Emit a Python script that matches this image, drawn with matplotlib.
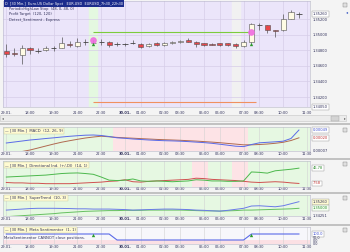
import numpy as np
import matplotlib
matplotlib.use("Agg")
import matplotlib.pyplot as plt
from matplotlib.patches import Rectangle
from matplotlib.lines import Line2D

# barras de 30 min: 29.01 16:30 -> 30.01 11:00
opens = [1.34790, 1.34768, 1.34738, 1.34824, 1.34790, 1.34803, 1.34824, 1.34824, 1.34879, 1.34858,
         1.34901, 1.34888, 1.34901, 1.34909, 1.34876, 1.34876, 1.34888, 1.34879, 1.34854, 1.34888,
         1.34867, 1.34888, 1.34905, 1.34931, 1.34909, 1.34888, 1.34879, 1.34888, 1.34888, 1.34879,
         1.34858, 1.34909, 1.35123, 1.35123, 1.35055, 1.35059, 1.35200, 1.35262]
highs = [1.34876, 1.34824, 1.34867, 1.34845, 1.34827, 1.34858, 1.34854, 1.34965, 1.34918, 1.34953,
         1.34940, 1.34931, 1.34940, 1.34922, 1.34901, 1.34896, 1.34931, 1.34888, 1.34888, 1.34901,
         1.34901, 1.34922, 1.34935, 1.34953, 1.34918, 1.34896, 1.34892, 1.34896, 1.34896, 1.34896,
         1.34931, 1.35145, 1.35153, 1.35123, 1.35059, 1.35264, 1.35315, 1.35294]
lows = [1.34717, 1.34726, 1.34619, 1.34747, 1.34760, 1.34790, 1.34794, 1.34824, 1.34845, 1.34845,
        1.34867, 1.34863, 1.34867, 1.34845, 1.34858, 1.34854, 1.34879, 1.34832, 1.34845, 1.34854,
        1.34858, 1.34879, 1.34896, 1.34905, 1.34845, 1.34858, 1.34863, 1.34854, 1.34850, 1.34832,
        1.34845, 1.34896, 1.35059, 1.35017, 1.34973, 1.35050, 1.35200, 1.35209]
closes = [1.34755, 1.34747, 1.34832, 1.34803, 1.34790, 1.34832, 1.34824, 1.34888, 1.34867, 1.34901,
          1.34901, 1.34896, 1.34901, 1.34867, 1.34876, 1.34876, 1.34888, 1.34845, 1.34879, 1.34863,
          1.34888, 1.34909, 1.34922, 1.34909, 1.34879, 1.34867, 1.34871, 1.34863, 1.34863, 1.34858,
          1.34909, 1.35132, 1.35123, 1.35059, 1.35050, 1.35200, 1.35294, 1.35260]

tick_idx = [0, 3, 6, 9, 12, 15, 17, 20, 22, 25, 27, 30, 32, 35, 38]
tick_lbl = ["29.01.", "18:00", "19:30", "21:00", "22:30", "30.01.", "01:00", "02:30",
            "03:30", "05:00", "06:00", "07:30", "08:30", "10:00", "11:30"]
price_ticks = [1.342, 1.344, 1.346, 1.348, 1.350, 1.352]

# trade
entry_idx, exit_idx = 11, 31
entry_price, target_price, stop_price = 1.34931, 1.35030, 1.34140
signal_idx = [11, 31]
signal_price = [1.34885, 1.34876]
green_bars = [11]
grey_bars = [29]

# MACD (x 1e-5)
macd = [1.9, 5.5, 9.1, 12.8, 15.3, 18.2, 20.7, 23.6, 26.2, 28.3, 30.2, 30.9, 29.1, 25.4, 20.7,
        18.9, 16.4, 14.6, 12.8, 11.3, 10.2, 9.5, 8.4, 7.0, 5.1, 3.3, 0.8, -2.5, -6.1, -9.7,
        -11.2, -3.6, 2.6, 4.4, 6.2, 8.4, 18.2, 49.0]
signal = [-38.0, -34.4, -28.9, -23.5, -16.3, -9.0, -1.8, 4.8, 10.2, 15.3, 20.0, 23.6, 26.5, 24.4,
          22.2, 20.7, 19.3, 17.8, 16.4, 14.9, 13.8, 12.8, 11.7, 10.2, 8.8, 7.0, 5.1, 3.0, 0.4,
          -2.1, -4.7, -4.7, -3.6, -1.8, 0.8, 4.4, 10.9, 20.7]
macd_state = "g" * 14 + "r" * 17 + "g" * 7

# Directional Ind.
plus_di = [24, 25, 26, 27, 28, 29, 31, 33, 34, 34.5, 33, 31, 24, 16, 15, 16, 19, 14, 13, 14,
           13, 12, 13, 14, 17, 16, 14, 14, 13, 13, 14, 37, 36, 34, 40, 42, 44, 46.78]
minus_di = [10, 9, 9, 8, 8, 7, 7, 7, 7, 8, 9, 10, 11, 13, 14, 17, 12, 11, 13, 14,
            15, 16, 17, 18, 21, 20, 18, 17, 16, 15, 13, 11, 10, 11, 12, 11, 9, 7.58]
di_red_bars = [24, 25, 29, 30]

# SuperTrend
st_blue = [1.3493, 1.3495, 1.3497, 1.3499, 1.3500, 1.3500, 1.3500, 1.34995, 1.3499, 1.3498,
           1.3498, 1.3497, 1.3497, 1.3497, 1.3496, 1.3495, 1.3493, 1.3494, 1.3495, 1.3496,
           1.3497, 1.3497, 1.3496, 1.3495, 1.3493, 1.3492, 1.3490, 1.3489, 1.3492, 1.3496,
           1.3500, 1.3509, 1.3510, 1.3508, 1.3506, 1.3510, 1.3518, 1.3526]
st_green = [1.3467, 1.3469, 1.3471, 1.3473, 1.3475, 1.3477, 1.3479, 1.3482, 1.3484, 1.3486,
            1.3488, 1.3489, 1.3490, 1.3491, 1.3491, 1.3492, 1.3492, 1.3492, 1.3493, 1.3493,
            1.3493, 1.3493, 1.3493, 1.3492, 1.3491, 1.3490, 1.3490, 1.3489, 1.3490, 1.3491,
            1.3493, 1.3493, 1.3494, 1.3495, 1.3496, 1.3497, 1.3498, 1.3500]

# Meta Sentimentor
meta = [100] * 14 + [0] * 17 + [100] * 7

W, H = 350, 252
fig = plt.figure(figsize=(W / 100, H / 100), dpi=100, facecolor="#f4f4f4")


def px_box(x0, y0, x1, y1):
    return [x0 / W, 1 - y1 / H, (x1 - x0) / W, (y1 - y0) / H]


n = len(closes)
idx = np.arange(n)
x_lim = (-0.42, 38.4)
txt_col = "#30305a"

ax_main = fig.add_axes(px_box(3, 1, 310, 107))
ax_macd = fig.add_axes(px_box(3, 127, 310, 151))
ax_di = fig.add_axes(px_box(3, 161, 310, 186.5))
ax_st = fig.add_axes(px_box(3, 195, 310, 216))
ax_meta = fig.add_axes(px_box(3, 227, 310, 244))


def base_axes(ax, bg, pad):
    ax.set_facecolor(bg)
    ax.set_xlim(*x_lim)
    ax.set_xticks(tick_idx)
    ax.set_xticklabels(tick_lbl, fontsize=2.6, color=txt_col)
    for t in ax.get_xticklabels():
        if t.get_text() == "30.01.":
            t.set_fontweight("bold")
    ax.tick_params(axis="x", length=0, pad=pad)
    ax.tick_params(axis="y", length=0, pad=2, labelsize=2.6, labelcolor=txt_col)
    ax.yaxis.tick_right()
    for s in ax.spines.values():
        s.set_color("#b8b8c8")
        s.set_linewidth(0.4)
    ax.grid(True, axis="x", color="#d2d2d2", lw=0.4)
    ax.set_axisbelow(True)


def value_box(ax, y, text, col, fc="white"):
    ax.annotate(text, xy=(1, y), xycoords=("axes fraction", "data"), xytext=(2.2, 0),
                textcoords="offset points", fontsize=2.6, color=col, va="center", ha="left",
                bbox=dict(boxstyle="square,pad=0.25", fc=fc, ec="#909090", lw=0.3),
                annotation_clip=False)


def panel_title(ax, text):
    ax.text(0.008, 0.84, "\u2014 " + text, transform=ax.transAxes, fontsize=2.7, color=txt_col,
            va="center", ha="left",
            bbox=dict(boxstyle="square,pad=0.3", fc="#fffbd2", ec="#c8c8a0", lw=0.3))


# ---- grafico principal
base_axes(ax_main, "#ebe5fa", 2.8)
ax_main.set_ylim(1.34072, 1.35431)
ax_main.set_yticks(price_ticks)
ax_main.set_yticklabels([f"{p:.5f}" for p in price_ticks])
ax_main.grid(True, color="#d6cde8", lw=0.5)
for b in green_bars:
    ax_main.axvspan(b - 0.5, b + 0.5, color="#e4f8e0", zorder=0)
for b in grey_bars:
    ax_main.axvspan(b - 0.5, b + 0.5, color="#f1f1f1", zorder=0)

for i in idx:
    o, h, l, c = opens[i], highs[i], lows[i], closes[i]
    ax_main.vlines(i, l, h, color="#555555", lw=0.5, zorder=3)
    if abs(c - o) < 0.00003:
        ax_main.hlines((o + c) / 2, i - 0.33, i + 0.33, color="#444444", lw=0.6, zorder=4)
    else:
        fc = "#e8464a" if c < o else "#fffbe4"
        ax_main.add_patch(Rectangle((i - 0.33, min(o, c)), 0.66, abs(c - o), fc=fc,
                                    ec="#505050", lw=0.4, zorder=4))

ax_main.hlines(target_price, entry_idx, exit_idx, color="#7ccc3c", lw=0.8, zorder=2)
ax_main.hlines(stop_price, entry_idx, exit_idx + 0.6, color="#f0905f", lw=0.8, zorder=2)
ax_main.plot([entry_idx, exit_idx], [entry_price, target_price], "o", ms=4.8,
             color="#f06ae0", alpha=0.9, zorder=5, mec="none")
ax_main.plot(signal_idx, signal_price, "^", ms=2.4, color="#2a9a2a", zorder=6, mec="none")
value_box(ax_main, closes[-1], f"{closes[-1]:.5f}", txt_col)
value_box(ax_main, 1.34072, "1.34050", txt_col)

ax_main.text(0.0065, 0.976, "D  [30 Min.]  Euro.US Dollar Spot   EUR.USD  EURUSD_7h30_22h30",
             transform=ax_main.transAxes, fontsize=2.5, color="white", va="center", ha="left",
             bbox=dict(boxstyle="square,pad=0.35", fc="#1c2c8c", ec="none"))
for k, t in enumerate(["PeriodicHighLow Stop  (48, 0, 48, 0)", "Profit Target  (120, 120)",
                       "Detect_Sentiment - Express"]):
    ax_main.text(0.018, 0.925 - k * 0.05, t, transform=ax_main.transAxes, fontsize=2.6,
                 color=txt_col, va="center", ha="left")

# ---- MACD
base_axes(ax_macd, "#e6f8e2", 0.6)
for i, s in enumerate(macd_state):
    if s == "r":
        ax_macd.axvspan(i - 0.5, i + 0.5, color="#fde3e6", lw=0, zorder=0)
ax_macd.set_ylim(-27.1e-5, 59.9e-5)
ax_macd.set_yticks([])
ax_macd.plot(idx, np.array(signal) * 1e-5, color="#b06a50", lw=0.7)
ax_macd.plot(idx, np.array(macd) * 1e-5, color="#5a6ae8", lw=0.7)
value_box(ax_macd, macd[-1] * 1e-5, "0.00049", "#4050d0")
value_box(ax_macd, signal[-1] * 1e-5, "0.00020", "#c03030")
ax_macd.annotate("0.00007", xy=(1, 0), xycoords="axes fraction", xytext=(2.2, 0),
                 textcoords="offset points", fontsize=2.6, color=txt_col, va="center")
panel_title(ax_macd, "[30 Min.]  MACD  (12, 26, 9)")

# ---- Directional Ind.
base_axes(ax_di, "#e6f8e2", 0.6)
for b in di_red_bars:
    ax_di.axvspan(b - 0.5, b + 0.5, color="#fde3e6", lw=0, zorder=0)
ax_di.set_ylim(-0.25, 65.1)
ax_di.set_yticks([])
ax_di.plot(idx, minus_di, color="#d05050", lw=0.7)
ax_di.plot(idx, plus_di, color="#4cb84c", lw=0.7)
value_box(ax_di, plus_di[-1], "46.78", "#2a8a2a")
value_box(ax_di, minus_di[-1], "7.58", "#c03030")
panel_title(ax_di, "[30 Min.]  Directional Ind. (+/-DI)  (14, 1)")

# ---- SuperTrend
base_axes(ax_st, "#e6f8e2", 0.6)
ax_st.set_ylim(1.34697, 1.35524)
ax_st.set_yticks([])
ax_st.plot(idx, st_green, color="#66c060", lw=0.7)
ax_st.plot(idx, st_blue, color="#6a7ae8", lw=0.7)
value_box(ax_st, st_blue[-1], "1.35260", txt_col, fc="#fffbd2")
value_box(ax_st, st_green[-1], "1.35000", "#2a8a2a", fc="#f4fff0")
ax_st.annotate("1.34251", xy=(1, 0), xycoords="axes fraction", xytext=(2.2, 0),
               textcoords="offset points", fontsize=2.6, color=txt_col, va="center")
panel_title(ax_st, "[30 Min.]  SuperTrend  (10, 3)")

# ---- Meta Sentimentor
base_axes(ax_meta, "#f7f7fb", 0.6)
ax_meta.set_ylim(-66.7, 216.7)
ax_meta.set_yticks([])
ax_meta.axhspan(-66.7, 0, color="#fbe0e4", lw=0, zorder=0)
ax_meta.plot(idx, meta, color="#5a6ae8", lw=0.8)
ax_meta.plot(signal_idx, [90, 90], "^", ms=2.4, color="#2a9a2a", mec="none", zorder=5)
value_box(ax_meta, 100, "100.0", "#4050d0")
for v, t in [(40, "50.0"), (-10, "0.0"), (-60, "0.0")]:
    ax_meta.annotate(t, xy=(1, v), xycoords=("axes fraction", "data"), xytext=(2.2, 0),
                     textcoords="offset points", fontsize=2.4, color=txt_col, va="center",
                     annotation_clip=False)
ax_meta.text(0.003, 0.35, "MetaSentimentor CANNOT close positions.", transform=ax_meta.transAxes,
             fontsize=2.7, color=txt_col, va="center", ha="left")
panel_title(ax_meta, "[30 Min.]  Meta Sentimentor  (1, 1)")

# ---- moldura: barra de rolagem, separadores, icones
fig.add_artist(Rectangle((0, 1 - 121 / H), 346 / W, 6 / H, transform=fig.transFigure,
                         fc="#ececec", ec="#c4c4c4", lw=0.4))
fig.add_artist(Rectangle((331 / W, 1 - 120.5 / H), 8 / W, 5 / H, transform=fig.transFigure,
                         fc="#d4d4d4", ec="#a0a0a0", lw=0.3))
fig.text(1.5 / W, 1 - 118 / H, "\u25c2", fontsize=2.6, color="#606060", va="center")
fig.text(344 / W, 1 - 118 / H, "\u25b8", fontsize=2.6, color="#606060", va="center")
for y in [123.5, 158.5, 192.5, 224.5]:
    fig.add_artist(Line2D([0, 1], [1 - y / H, 1 - y / H], color="#b4b4b4", lw=1.1))
for y in [3, 128, 162, 196, 228]:
    fig.add_artist(Rectangle((343 / W, 1 - (y + 4) / H), 4 / W, 4 / H,
                             transform=fig.transFigure, fc="#e0e0e0", ec="#808080", lw=0.3))
fig.text(346 / W, 1 - 12 / H, "\u25c2", fontsize=3, color="#3050c0", va="center")

fig.savefig("out.png", dpi=100, facecolor=fig.get_facecolor())
